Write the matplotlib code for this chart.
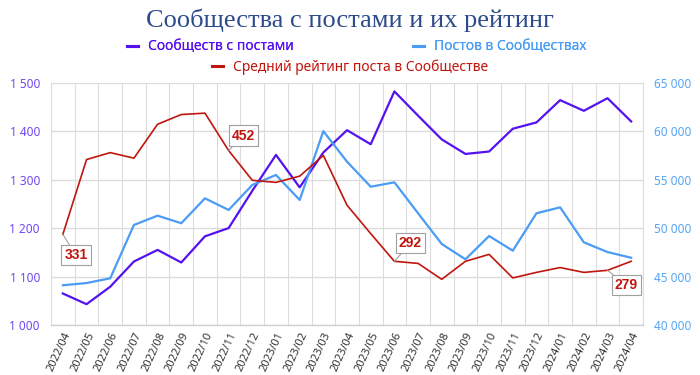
"""
Сообщества с постами и их рейтинг - three series on two visible axes.
"""

import numpy as np
import matplotlib
matplotlib.use('Agg')
import matplotlib.pyplot as plt
from matplotlib.lines import Line2D

months = ['2022/04', '2022/05', '2022/06', '2022/07', '2022/08', '2022/09',
          '2022/10', '2022/11', '2022/12', '2023/01', '2023/02', '2023/03',
          '2023/04', '2023/05', '2023/06', '2023/07', '2023/08', '2023/09',
          '2023/10', '2023/11', '2023/12', '2024/01', '2024/02', '2024/03',
          '2024/04']

communities = [1065, 1043, 1079, 1131, 1155, 1129, 1183, 1200, 1277, 1351,
               1284, 1356, 1402, 1373, 1482, 1432, 1383, 1353, 1358, 1405,
               1418, 1464, 1442, 1468, 1420]

posts = [44100, 44330, 44820, 50320, 51280, 50500, 53070, 51870, 54450, 55480,
         52900, 60000, 56850, 54270, 54720, 51530, 48360, 46780, 49180, 47670,
         51530, 52140, 48530, 47530, 46940]

rating = [331, 439, 449, 441, 490, 504, 506, 452, 409, 406,
          415, 445, 373, 332, 292, 289, 266, 292, 302, 268,
          276, 283, 276, 279, 292]

# which points get a callout and where the box sits (pixels from the point)
callouts = {0: (13, -21), 7: (15, 15), 14: (16, 18), 23: (19, -15)}

purple = '#5512F0'
blue = '#4A9CF5'
red = '#C0160E'
grid_c = '#DCDCDC'

plt.rcParams['font.family'] = ['Noto Sans', 'DejaVu Sans']

fig = plt.figure(figsize=(7, 3.75), dpi=100)
ax = fig.add_axes([0.0729, 0.1333, 0.8457, 0.6462])
ax2 = ax.twinx()
ax3 = ax.twinx()

x = np.arange(len(months))

ax.plot(x, communities, color=purple, lw=1.6, zorder=3)
ax2.plot(x, posts, color=blue, lw=1.6, zorder=3)
ax3.plot(x, rating, color=red, lw=1.2, zorder=3)

ax.set_xlim(-0.5, len(months) - 0.5)
ax.set_ylim(1000, 1500)
ax2.set_ylim(40000, 65000)
ax3.set_ylim(200, 550)

ax.set_yticks(np.arange(1000, 1501, 100))
ax.set_yticklabels([f'{v:,}'.replace(',', ' ') for v in range(1000, 1501, 100)])
ax2.set_yticks(np.arange(40000, 65001, 5000))
ax2.set_yticklabels([f'{v:,}'.replace(',', ' ') for v in range(40000, 65001, 5000)])
ax3.set_yticks([])

ax.set_xticks(x)
ax.set_xticklabels(months, rotation=65, ha='right', rotation_mode='anchor',
                   fontsize=8, color='#333333')
ax.set_xticks(np.arange(-0.5, len(months), 1), minor=True)

ax.tick_params(axis='y', colors='#7046F5', labelsize=8.5, length=0, pad=8)
ax2.tick_params(axis='y', colors='#55A5F7', labelsize=8.5, length=0, pad=8)
ax.tick_params(axis='x', which='major', length=0, pad=4)
ax.tick_params(axis='x', which='minor', length=0)

ax.grid(axis='y', color=grid_c, lw=1.0)
ax.grid(axis='x', which='minor', color=grid_c, lw=0.8)
ax.set_axisbelow(True)

for a in (ax, ax2, ax3):
    for side in ('top', 'left', 'right'):
        a.spines[side].set_visible(False)
    a.spines['bottom'].set_color('#CFCFCF')
ax.spines['left'].set_visible(True)
ax.spines['left'].set_color(grid_c)
ax.spines['right'].set_visible(True)
ax.spines['right'].set_color(grid_c)

for i, (dx, dy) in callouts.items():
    ax3.annotate(str(rating[i]), xy=(x[i], rating[i]), xytext=(dx, dy),
                 textcoords='offset pixels', ha='center', va='center',
                 fontsize=10, fontweight='bold', color=red, zorder=5,
                 family=['Liberation Sans', 'DejaVu Sans'],
                 bbox=dict(boxstyle='square,pad=0.22', fc='white',
                           ec='#A0A0A0', lw=0.8),
                 arrowprops=dict(arrowstyle='-', color='#A0A0A0', lw=0.8,
                                 shrinkA=0, shrinkB=0))

fig.text(0.5, 0.945, 'Сообщества с постами и их рейтинг', ha='center',
         va='center', fontsize=19, color='#2D4B8C',
         family=['Liberation Serif', 'DejaVu Serif'])

h1 = Line2D([], [], color=purple, lw=2.2)
h2 = Line2D([], [], color=blue, lw=2.2)
h3 = Line2D([], [], color=red, lw=2.2)
leg1 = fig.legend([h1, h2], ['Сообществ с постами', 'Постов в Сообществах'],
                  loc='center', bbox_to_anchor=(0.51, 0.875), ncol=2,
                  frameon=False, fontsize=10, handlelength=0.8,
                  handletextpad=0.7, columnspacing=8.6, labelcolor='linecolor')
leg2 = fig.legend([h3], ['Средний рейтинг поста в Сообществе'],
                  loc='center', bbox_to_anchor=(0.5, 0.821),
                  frameon=False, fontsize=10, handlelength=0.8,
                  handletextpad=0.7, labelcolor='linecolor')
fig.add_artist(leg1)

plt.savefig('out.png', dpi=100)
